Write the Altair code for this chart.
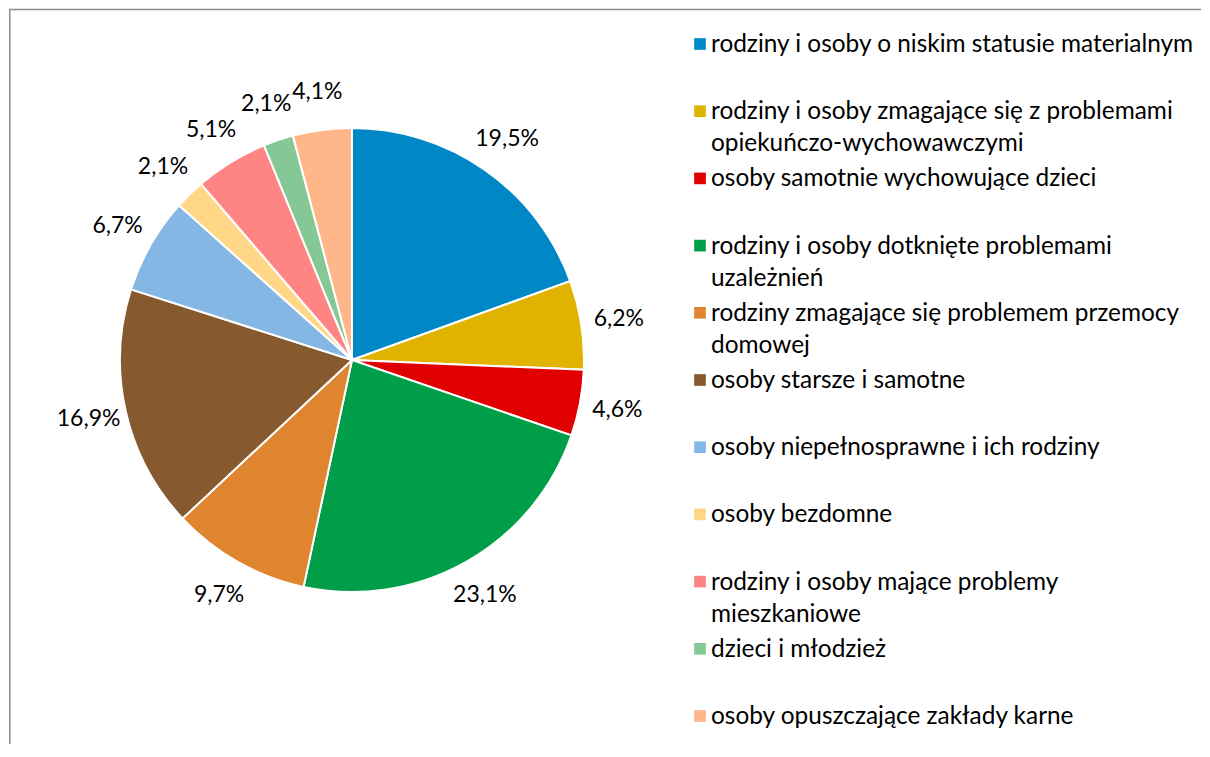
import altair as alt
import pandas as pd

categories = [
    "rodziny i osoby o niskim statusie materialnym",
    "rodziny i osoby zmagające się z problemami\nopiekuńczo-wychowawczymi",
    "osoby samotnie wychowujące dzieci",
    "rodziny i osoby dotknięte problemami\nuzależnień",
    "rodziny zmagające się problemem przemocy\ndomowej",
    "osoby starsze i samotne",
    "osoby niepełnosprawne i ich rodziny",
    "osoby bezdomne",
    "rodziny i osoby mające problemy\nmieszkaniowe",
    "dzieci i młodzież",
    "osoby opuszczające zakłady karne",
]
values = [19.5, 6.2, 4.6, 23.1, 9.7, 16.9, 6.7, 2.1, 5.1, 2.1, 4.1]
colors = [
    "#0088C6", "#E0B300", "#E00000", "#009E48", "#E0852F", "#87592E",
    "#85B7E4", "#FFD786", "#FF8585", "#86C796", "#FFB689",
]
labels = [f"{v:.1f}%".replace(".", ",") for v in values]

df = pd.DataFrame({
    "cat": categories,
    "value": values,
    "idx": list(range(len(values))),
    "label": labels,
})

FONT = "Lato"
PIE_W, PIE_H = 686, 704
LEG_W = 470

color_scale = alt.Scale(domain=categories, range=colors)

base = alt.Chart(df).encode(
    theta=alt.Theta("value:Q", stack=True),
    order=alt.Order("idx:Q"),
)

arcs = base.mark_arc(outerRadius=232, stroke="white", strokeWidth=2).encode(
    color=alt.Color("cat:N", scale=color_scale, legend=None)
)

pct = base.mark_text(radius=270, font=FONT, fontSize=23, color="#000000",
                     align="center", baseline="middle").encode(
    text="label:N", detail="cat:N"
)

frame = pd.DataFrame({"k": [0]})
frame_color = "#8a8a8a"
top_line = alt.Chart(frame).mark_rule(color=frame_color, strokeWidth=1.5).encode(
    x=alt.value(0), x2=alt.value(1192), y=alt.value(1.5)
)
left_line = alt.Chart(frame).mark_rule(color=frame_color, strokeWidth=1.5).encode(
    x=alt.value(0.75), y=alt.value(1.5), y2=alt.value(736)
)

pie = alt.layer(arcs, pct, top_line, left_line).properties(width=PIE_W, height=PIE_H)

ypos = alt.Y("cat:N", sort=categories, axis=None,
             scale=alt.Scale(type="point", range=[36, 708], padding=0))

swatch = alt.Chart(df).mark_square(size=136, opacity=1).encode(
    x=alt.value(5),
    y=ypos,
    color=alt.Color("cat:N", scale=color_scale, legend=None),
)
leg_text = alt.Chart(df).mark_text(
    align="left", baseline="alphabetic", dy=8, lineBreak="\n", lineHeight=32,
    font=FONT, fontSize=24.4, color="#000000",
).encode(x=alt.value(16), y=ypos, text="cat:N")

legend = alt.layer(swatch, leg_text).properties(width=LEG_W, height=PIE_H)

chart = alt.hconcat(pie, legend, spacing=0, bounds="flush").properties(
    padding=0, background="white"
).configure_view(strokeWidth=0, stroke="transparent")

chart.save("out.html", embed_options={"renderer": "svg", "actions": False})
